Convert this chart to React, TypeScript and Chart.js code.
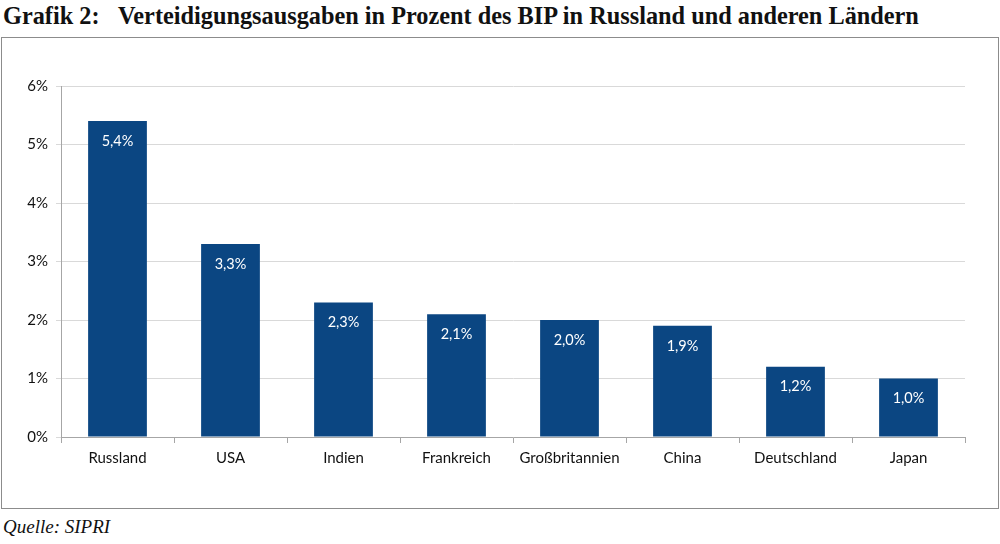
import React, { useEffect, useRef } from "react";
import { Chart, registerables } from "chart.js";

Chart.register(...registerables);

const categories = ["Russland", "USA", "Indien", "Frankreich", "Großbritannien", "China", "Deutschland", "Japan"];
const values = [5.4, 3.3, 2.3, 2.1, 2.0, 1.9, 1.2, 1.0];
const yTicks = [0, 1, 2, 3, 4, 5, 6];
const titleLabel = "Grafik 2:";
const titleText = "Verteidigungsausgaben in Prozent des BIP in Russland und anderen Ländern";
const sourceText = "Quelle: SIPRI";

const BAR_COLOR = "#0b4682";
const FONT = "Lato, 'Liberation Sans', sans-serif";

const fmt = (v: number) => v.toFixed(1).replace(".", ",") + "%";

const labelPlugin = {
  id: "barLabels",
  afterDatasetsDraw(chart: any) {
    const ctx = chart.ctx;
    const meta = chart.getDatasetMeta(0);
    ctx.save();
    ctx.fillStyle = "#ffffff";
    ctx.font = `14.5px ${FONT}`;
    ctx.textAlign = "center";
    ctx.textBaseline = "middle";
    meta.data.forEach((bar: any, i: number) => {
      ctx.fillText(fmt(values[i]), bar.x, bar.y + 20);
    });
    ctx.restore();
  },
};

export default function App() {
  const canvasRef = useRef<HTMLCanvasElement | null>(null);

  useEffect(() => {
    if (!canvasRef.current) return;
    const chart = new Chart(canvasRef.current, {
      type: "bar",
      data: {
        labels: categories,
        datasets: [
          {
            data: values,
            backgroundColor: BAR_COLOR,
            borderWidth: 0,
            categoryPercentage: 1,
            barPercentage: 0.52,
          },
        ],
      },
      options: {
        animation: false,
        responsive: false,
        maintainAspectRatio: false,
        layout: { padding: { top: 48, right: 33, left: 0, bottom: 0 } },
        plugins: {
          legend: { display: false },
          tooltip: { enabled: false },
        },
        scales: {
          x: {
            grid: {
              display: true,
              drawOnChartArea: false,
              drawTicks: true,
              tickLength: 6,
              color: "#a6a6a6",
              offset: true,
            },
            border: { color: "#a6a6a6", width: 1 },
            ticks: {
              color: "#111111",
              font: { family: FONT, size: 15 },
              padding: 6,
              maxRotation: 0,
              autoSkip: false,
            },
            afterFit(scale: any) {
              scale.height = 71;
            },
          },
          y: {
            min: 0,
            max: 6,
            afterBuildTicks(scale: any) {
              scale.ticks = yTicks.map((v) => ({ value: v }));
            },
            grid: {
              color: "#d9d9d9",
              tickLength: 5,
            },
            border: { color: "#a6a6a6", width: 1 },
            ticks: {
              color: "#111111",
              font: { family: FONT, size: 15 },
              padding: 8,
              callback: (v: any) => `${v}%`,
            },
            afterFit(scale: any) {
              scale.width = 61;
            },
          },
        },
      },
      plugins: [labelPlugin],
    });
    return () => chart.destroy();
  }, []);

  return (
    <div style={{ position: "fixed", left: 0, top: 0, width: 1000, height: 544, background: "#fff" }}>
      <div
        style={{
          position: "absolute",
          left: 3,
          top: 2,
          fontFamily: "'Liberation Serif', 'DejaVu Serif', serif",
          fontWeight: "bold",
          fontSize: 24.3,
          color: "#111",
          whiteSpace: "nowrap",
        }}
      >
        <span style={{ display: "inline-block", width: 115 }}>{titleLabel}</span>
        <span>{titleText}</span>
      </div>
      <div
        style={{
          position: "absolute",
          left: 1,
          top: 37,
          width: 996,
          height: 470,
          border: "1px solid #8c8c8c",
        }}
      />
      <canvas
        ref={canvasRef}
        width={998}
        height={470}
        style={{ position: "absolute", left: 0, top: 38, width: 998, height: 470 }}
      />
      <div
        style={{
          position: "absolute",
          left: 3,
          top: 516,
          fontFamily: "'Liberation Serif', 'DejaVu Serif', serif",
          fontStyle: "italic",
          fontSize: 19,
          color: "#111",
        }}
      >
        {sourceText}
      </div>
    </div>
  );
}
